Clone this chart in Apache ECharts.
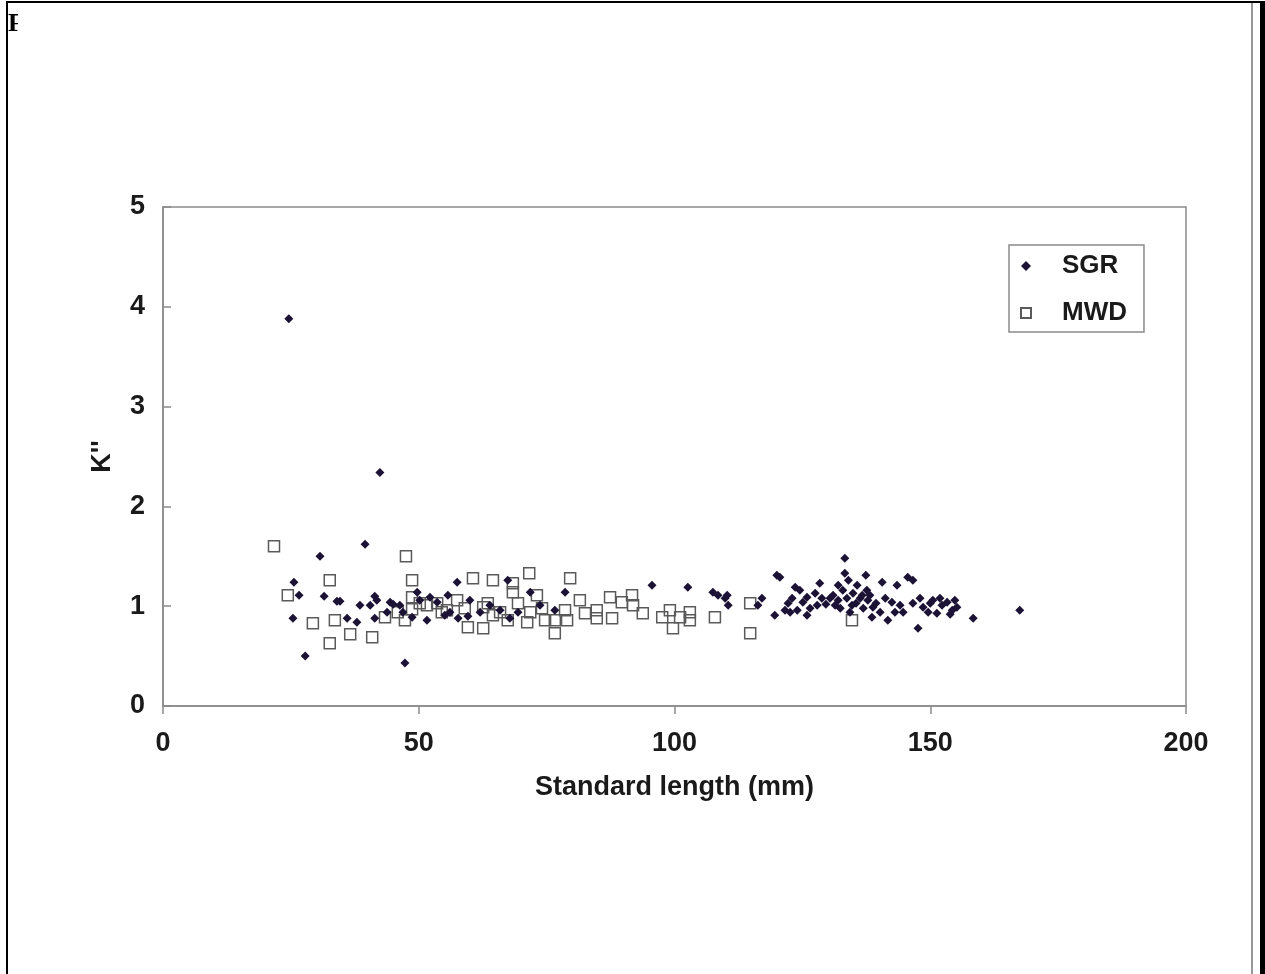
<!DOCTYPE html>
<html>
<head>
<meta charset="utf-8">
<script src="https://cdn.jsdelivr.net/npm/echarts@6/dist/echarts.min.js"></script>
<style>
  html, body { margin:0; padding:0; background:#fff; }
  #chart { position:absolute; left:0; top:0; width:1265px; height:974px; }
  .frame { position:absolute; background:#000; }
</style>
</head>
<body>
<div id="chart"></div>
<div class="frame" style="left:6px;top:1px;width:1259px;height:2px;"></div>
<div class="frame" style="left:6px;top:1px;width:2px;height:973px;"></div>
<div class="frame" style="left:1251px;top:3px;width:2px;height:971px;background:#999;"></div>
<div class="frame" style="left:1260px;top:1px;width:5px;height:973px;"></div>
<div style="position:absolute;left:8px;top:8px;width:10px;overflow:hidden;font:bold 26px 'Liberation Serif',serif;color:#000;line-height:30px;">F</div>
<script>
// Standard length (mm) vs K'' for SGR
const sgrX = [24.6,42.4,39.5,30.7,25.6,26.6,31.5,34.0,34.6,38.5,41.4,41.8,40.5,44.4,45.0,46.3,41.4,36.0,37.9,25.4,
  27.8,47.3,46.9,48.7,49.7,51.6,55.7,57.5,56.1,57.7,59.6,67.4,71.8,78.6,67.8,69.4,95.6,102.6,107.5,110.3,
  110.5,108.5,109.9,117.1,116.3,120.0,120.6,119.6,122.2,123.0,123.6,124.0,125.1,125.9,126.5,127.9,128.4,128.8,130.4,131.0,
  131.4,132.0,132.9,133.3,133.3,133.7,134.7,134.9,135.7,136.3,136.9,137.6,137.8,138.6,138.8,140.6,141.7,142.5,143.5,144.1,
  145.6,146.6,144.7,146.6,147.6,148.6,149.6,150.0,150.5,151.3,152.3,153.3,154.3,154.8,155.2,158.4,167.5,121.6,
  129.6,132.4,134.3,135.5,136.7,138.2,139.4,140.2,127.5,125.9,122.6,124.5,134.0,132.0,137.4,141.2,143.1,148.0,151.9,153.9,
  43.8,50.2,53.6,62.0,63.9,65.9,73.7,76.6,60.0,55.1,52.2];
const sgrY = [3.88,2.34,1.62,1.50,1.24,1.11,1.10,1.05,1.05,1.01,1.10,1.06,1.01,1.04,1.02,1.01,0.88,0.88,0.84,0.88,
  0.50,0.43,0.94,0.89,1.14,0.86,1.11,1.24,0.94,0.88,0.90,1.26,1.14,1.14,0.88,0.94,1.21,1.19,1.14,1.11,
  1.01,1.11,1.08,1.08,1.01,1.31,1.29,0.91,1.03,1.08,1.19,0.96,1.04,1.09,0.98,1.01,1.23,1.08,1.08,1.11,
  1.01,1.06,1.16,1.33,1.48,1.08,1.01,1.13,1.21,1.08,0.98,1.16,1.06,0.89,0.99,1.24,0.86,1.04,1.21,1.01,
  1.29,1.26,0.94,1.03,0.78,0.99,0.94,1.03,1.06,0.93,1.01,1.04,0.96,1.06,0.99,0.88,0.96,0.96,
  1.02,0.98,0.94,1.03,1.11,1.11,1.03,0.94,1.13,0.91,0.94,1.16,1.26,1.21,1.31,1.08,0.94,1.08,1.08,0.92,
  0.94,1.06,1.04,0.94,1.01,0.96,1.01,0.96,1.06,0.91,1.09];
// MWD
const mwdX = [21.7,24.4,32.6,47.5,48.7,48.7,48.7,51.6,29.3,33.6,36.6,40.9,32.6,43.4,47.3,60.6,64.5,53.6,54.5,57.5,
  59.0,59.6,62.6,62.6,64.5,63.5,71.6,79.6,68.4,68.4,65.9,69.4,71.8,74.1,74.7,76.6,76.6,78.6,79.0,81.5,
  82.5,84.8,84.8,87.4,87.8,89.7,91.9,93.8,97.6,99.1,99.7,101.1,103.0,103.0,107.9,114.8,114.8,134.7,73.1,71.2,
  67.4,50.2,55.5,45.9,91.7];
const mwdY = [1.60,1.11,1.26,1.50,1.26,1.09,0.97,1.01,0.83,0.86,0.72,0.69,0.63,0.89,0.86,1.28,1.26,1.03,0.94,1.06,
  0.98,0.79,0.99,0.78,0.91,1.03,1.33,1.28,1.23,1.14,0.94,1.03,0.94,0.98,0.86,0.86,0.73,0.96,0.86,1.06,
  0.93,0.96,0.88,1.09,0.88,1.04,1.01,0.93,0.89,0.96,0.78,0.89,0.94,0.86,0.89,1.03,0.73,0.86,1.11,0.84,
  0.86,1.03,0.96,0.94,1.11];
const xTicks = [0, 50, 100, 150, 200];
const yTicks = [0, 1, 2, 3, 4, 5];
const seriesNames = ['SGR', 'MWD'];

const zip = (a, b) => a.map((v, i) => [v, b[i]]);
const font = "'Liberation Sans', Arial, sans-serif";
const chart = echarts.init(document.getElementById('chart'), null, {renderer: 'canvas'});
chart.setOption({
  animation: false,
  backgroundColor: '#fff',
  grid: { left: 163, top: 207, right: 79, bottom: 268, show: true, borderColor: '#8a8a8a', borderWidth: 1.5, backgroundColor: 'transparent' },
  legend: {
    orient: 'vertical', left: 1009, top: 245,
    data: [{name: seriesNames[0], icon: 'diamond'}, {name: seriesNames[1], icon: 'rect'}],
    itemWidth: 10, itemHeight: 10, itemGap: 21,
    padding: [8, 17, 6, 11],
    borderColor: '#8a8a8a', borderWidth: 1.5, backgroundColor: '#fff',
    textStyle: { fontFamily: font, fontWeight: 'bold', fontSize: 26, color: '#1a1a1a', lineHeight: 24, padding: [0, 0, 0, 26] }
  },
  xAxis: {
    type: 'value', min: xTicks[0], max: xTicks[xTicks.length - 1], interval: 50,
    name: 'Standard length (mm)', nameLocation: 'middle', nameGap: 68,
    nameTextStyle: { fontFamily: font, fontWeight: 'bold', fontSize: 27, color: '#1a1a1a' },
    axisLine: { show: true, lineStyle: { color: '#8a8a8a', width: 1.5 } },
    axisTick: { show: true, inside: false, length: 8, lineStyle: { color: '#8a8a8a', width: 1.5 } },
    axisLabel: { margin: 24, fontFamily: font, fontWeight: 'bold', fontSize: 27, color: '#1a1a1a' },
    splitLine: { show: false }
  },
  yAxis: {
    type: 'value', min: yTicks[0], max: yTicks[yTicks.length - 1], interval: 1,
    name: "K''", nameLocation: 'middle', nameGap: 47, nameRotate: 90,
    nameTextStyle: { fontFamily: font, fontWeight: 'bold', fontSize: 27, color: '#1a1a1a' },
    axisLine: { show: true, lineStyle: { color: '#8a8a8a', width: 1.5 } },
    axisTick: { show: true, inside: true, length: 8, lineStyle: { color: '#8a8a8a', width: 1.5 } },
    axisLabel: { margin: 18, fontFamily: font, fontWeight: 'bold', fontSize: 27, color: '#1a1a1a' },
    splitLine: { show: false }
  },
  series: [
    { name: seriesNames[0], type: 'scatter', symbol: 'diamond', symbolSize: 9, z: 3,
      itemStyle: { color: '#1c1236', opacity: 1 }, data: zip(sgrX, sgrY) },
    { name: seriesNames[1], type: 'scatter', symbol: 'rect', symbolSize: 11, z: 2,
      itemStyle: { color: 'rgba(255,255,255,0)', borderColor: '#5a5a5a', borderWidth: 1.5, opacity: 1 }, data: zip(mwdX, mwdY) }
  ]
});
</script>
</body>
</html>
